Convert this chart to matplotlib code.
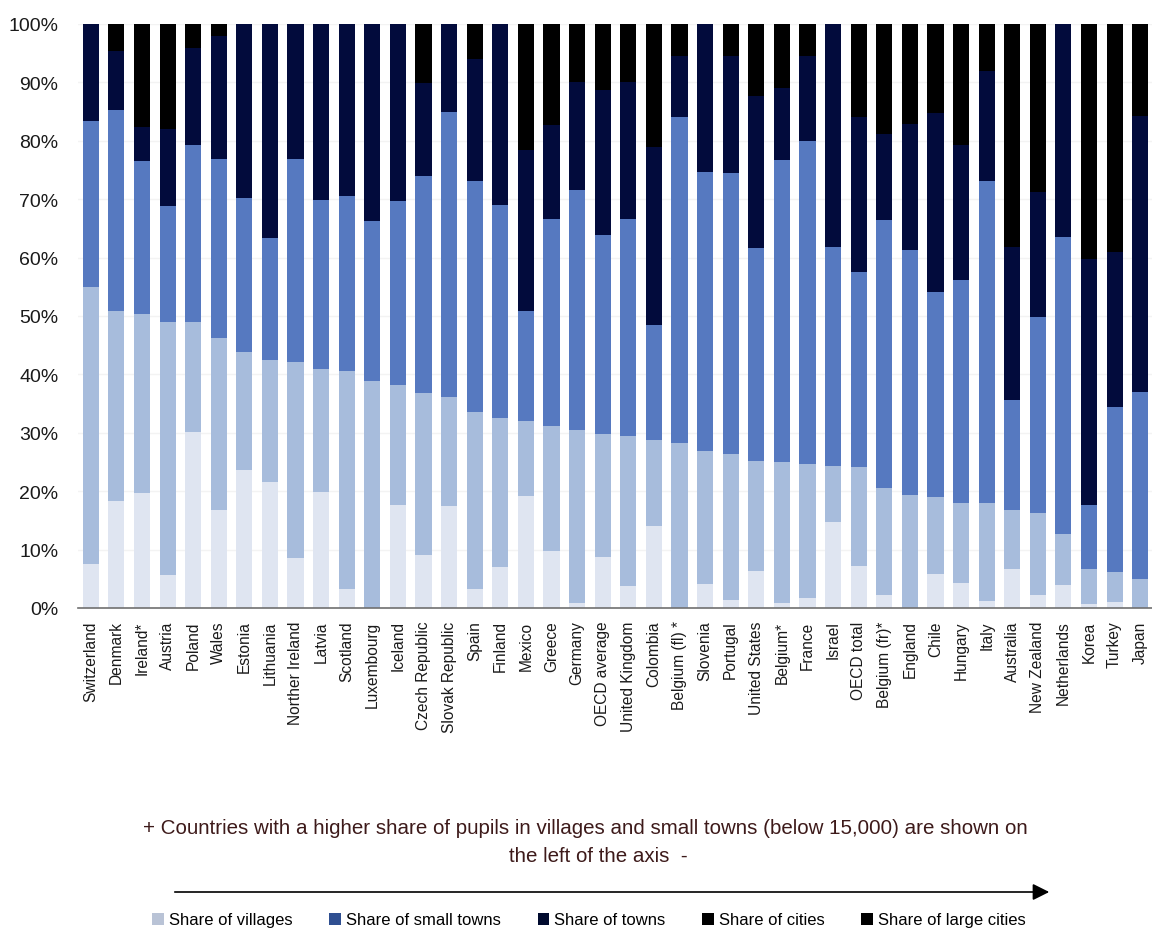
import matplotlib
matplotlib.use("Agg")
import matplotlib.pyplot as plt
import numpy as np
from matplotlib.patches import Patch, FancyArrowPatch

countries = ["Switzerland", "Denmark", "Ireland*", "Austria", "Poland", "Wales", "Estonia",
             "Lithuania", "Norther Ireland", "Latvia", "Scotland", "Luxembourg", "Iceland",
             "Czech Republic", "Slovak Republic", "Spain", "Finland", "Mexico", "Greece",
             "Germany", "OECD average", "United Kingdom", "Colombia", "Belgium (fl) *",
             "Slovenia", "Portugal", "United States", "Belgium*", "France", "Israel",
             "OECD total", "Belgium (fr)*", "England", "Chile", "Hungary", "Italy",
             "Australia", "New Zealand", "Netherlands", "Korea", "Turkey", "Japan"]

villages = [7.5, 18.3, 19.7, 5.7, 30.1, 16.8, 23.7, 21.6, 8.5, 19.9, 3.3, 0.0, 17.6,
            9.0, 17.5, 3.3, 7.1, 19.2, 9.8, 0.8, 8.8, 3.8, 14.0, 0.0, 4.1, 1.4, 6.3,
            0.9, 1.7, 14.8, 7.2, 2.2, 0.0, 5.9, 4.2, 1.2, 6.6, 2.3, 3.9, 0.7, 1.0, 0.0]
small_towns = [47.5, 32.6, 30.7, 43.2, 18.8, 29.4, 20.1, 20.8, 33.6, 21.0, 37.2, 38.9, 20.5,
               27.8, 18.6, 30.3, 25.4, 12.8, 21.4, 29.6, 21.0, 25.7, 14.7, 28.2, 22.8, 24.9,
               18.9, 24.1, 23.0, 9.6, 16.9, 18.4, 19.3, 13.1, 13.7, 16.7, 10.1, 13.9, 8.7,
               5.9, 5.2, 5.0]
towns = [28.4, 34.4, 26.2, 20.0, 30.4, 30.6, 26.4, 21.0, 34.8, 29.0, 30.1, 27.3, 31.6,
         37.1, 48.8, 39.5, 36.5, 18.9, 35.4, 41.1, 34.0, 37.1, 19.8, 55.9, 47.8, 48.2,
         36.4, 51.7, 55.2, 37.4, 33.4, 45.8, 42.0, 35.1, 38.2, 55.2, 18.9, 33.7, 51.0,
         11.0, 28.2, 32.0]
cities = [16.6, 10.0, 5.8, 13.1, 16.6, 21.2, 29.8, 36.6, 23.1, 30.1, 29.4, 33.8, 30.3,
          16.0, 15.1, 20.9, 31.0, 27.6, 16.1, 18.6, 24.9, 23.4, 30.4, 10.5, 25.3, 20.0,
          26.0, 12.3, 14.6, 38.2, 26.6, 14.7, 21.5, 30.6, 23.1, 18.8, 26.3, 21.4, 36.4,
          42.2, 26.5, 47.2]
large_cities = [0.0, 4.7, 17.6, 18.0, 4.1, 2.0, 0.0, 0.0, 0.0, 0.0, 0.0, 0.0, 0.0,
                10.1, 0.0, 6.0, 0.0, 21.5, 17.3, 9.9, 11.3, 10.0, 21.1, 5.4, 0.0, 5.5,
                12.4, 11.0, 5.5, 0.0, 15.9, 18.9, 17.2, 15.3, 20.8, 8.1, 38.1, 28.7, 0.0,
                40.2, 39.1, 15.8]

series_labels = ["Share of villages", "Share of small towns", "Share of towns",
                 "Share of cities", "Share of large cities"]
series = [villages, small_towns, towns, cities, large_cities]
bar_colors = ["#dfe5f1", "#a7bcdc", "#5679c0", "#020b3c", "#000000"]
legend_colors = ["#b9c3d6", "#2f4f91", "#000a2e", "#000000", "#000000"]

narrow = ["Liberation Sans Narrow", "Liberation Sans", "DejaVu Sans"]
plt.rcParams["font.family"] = ["Liberation Sans", "DejaVu Sans"]

fig = plt.figure(figsize=(11.52, 9.29), dpi=100)
ax = fig.add_axes([78 / 1152, (929 - 609) / 929, 1075 / 1152, 584 / 929])

x = np.arange(len(countries))
bottom = np.zeros(len(countries))
for vals, col in zip(series, bar_colors):
    vals = np.array(vals)
    ax.bar(x, vals, bottom=bottom, width=0.63, color=col, edgecolor="none", zorder=3)
    bottom += vals

ax.set_xlim(-0.5, len(countries) - 0.5)
ax.set_ylim(0, 100)
ax.set_yticks(np.arange(0, 101, 10))
ax.set_yticklabels([f"{v}%" for v in range(0, 101, 10)], fontsize=14, color="#1a1a1a")
ax.set_xticks(x)
ax.set_xticklabels(countries, rotation=90, fontsize=11.2, color="#1a1a1a")
ax.tick_params(axis="y", length=0, pad=14)
ax.tick_params(axis="x", length=0, pad=9)
ax.yaxis.grid(True, color="#f3f3f3", linewidth=1, zorder=0)
ax.set_axisbelow(True)
for s in ["top", "right", "left"]:
    ax.spines[s].set_visible(False)
ax.spines["bottom"].set_color("#707070")
ax.spines["bottom"].set_linewidth(1.2)
ax.spines["bottom"].set_zorder(4)

fig.text(585 / 1152, 1 - 829 / 929,
         "+ Countries with a higher share of pupils in villages and small towns (below 15,000) are shown on",
         ha="center", va="center", fontsize=14.8, color="#3d1a1a", family=narrow)
fig.text(598 / 1152, 1 - 857 / 929, "the left of the axis  -",
         ha="center", va="center", fontsize=14.8, color="#3d1a1a", family=narrow)

arrow = FancyArrowPatch((172 / 1152, 1 - 893 / 929), (1052 / 1152, 1 - 893 / 929),
                        transform=fig.transFigure, arrowstyle="-|>,head_length=10,head_width=5",
                        color="black", linewidth=1.2, mutation_scale=1)
fig.patches.append(arrow)

handles = [Patch(facecolor=c, edgecolor="none") for c in legend_colors]
fig.legend(handles, series_labels, loc="center", bbox_to_anchor=(589 / 1152, 1 - 921 / 929),
           ncol=5, frameon=False, handlelength=0.7, handleheight=0.7,
           handletextpad=0.3, columnspacing=2.2, prop={"family": narrow, "size": 12})

fig.savefig("out.png", dpi=100)
